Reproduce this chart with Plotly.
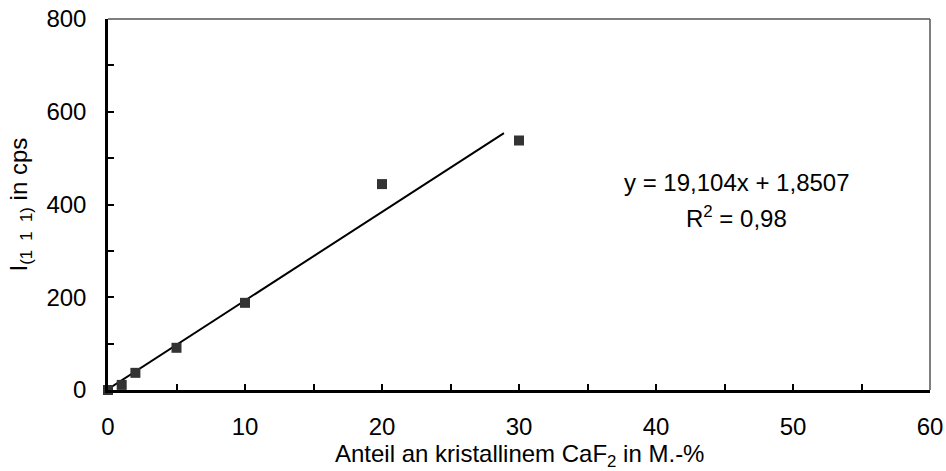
import plotly.graph_objects as go

# Data
x_vals = [0, 1, 2, 5, 10, 20, 30]
y_vals = [0, 11, 37, 91, 188, 444, 538]

# Linear trendline (Excel-style) as displayed
slope = 19.104
intercept = 1.8507
trend_x = [0, 28.9]
trend_y = [intercept + slope * v for v in trend_x]

eq_text = "y = 19,104x + 1,8507"
r2_text = "R<sup>2</sup> = 0,98"

x_title = "Anteil an kristallinem CaF<sub>2</sub> in M.-%"
y_title = "I<sub>(1&nbsp; 1&nbsp; 1)</sub> in cps"

FONT = "Liberation Sans, Arial, sans-serif"
FS = 24

fig = go.Figure()
fig.add_trace(go.Scatter(x=trend_x, y=trend_y, mode="lines",
                         line=dict(color="black", width=2),
                         showlegend=False, hoverinfo="skip"))
fig.add_trace(go.Scatter(x=x_vals, y=y_vals, mode="markers",
                         marker=dict(symbol="square", size=10, color="#333333"),
                         cliponaxis=False, showlegend=False))

fig.add_annotation(x=45.9, y=448, xref="x", yref="y", text=eq_text,
                   showarrow=False, font=dict(family=FONT, size=FS, color="black"))
fig.add_annotation(x=45.9, y=374, xref="x", yref="y", text=r2_text,
                   showarrow=False, font=dict(family=FONT, size=FS, color="black"))

# axis titles
fig.add_annotation(x=0.5, y=-0.177, xref="paper", yref="paper", text=x_title,
                   showarrow=False, xanchor="center", yanchor="middle",
                   font=dict(family=FONT, size=FS, color="black"))
fig.add_annotation(x=-0.107, y=0.5, xref="paper", yref="paper", text=y_title,
                   showarrow=False, textangle=-90, xanchor="center", yanchor="middle",
                   font=dict(family=FONT, size=FS, color="black"))

# thin gray top/right border
fig.add_shape(type="line", xref="paper", yref="paper", x0=0, x1=1, y0=1, y1=1,
              line=dict(color="#555555", width=1.5))
fig.add_shape(type="line", xref="paper", yref="paper", x0=1, x1=1, y0=0, y1=1,
              line=dict(color="#555555", width=1.5))

fig.update_layout(
    width=946, height=471,
    margin=dict(l=108, r=16, t=19, b=81),
    paper_bgcolor="white", plot_bgcolor="white",
    font=dict(family=FONT, size=FS, color="black"),
    xaxis=dict(range=[0, 60], dtick=10, tick0=0, showgrid=False, zeroline=False,
               automargin=False,
               showline=True, linecolor="black", linewidth=2.5,
               ticks="inside", ticklen=6, tickwidth=2, tickcolor="black",
               minor=dict(dtick=5, ticks="inside", ticklen=6, tickwidth=2, tickcolor="black"),
               ticklabelstandoff=13),
    yaxis=dict(range=[0, 800], dtick=200, tick0=0, showgrid=False, zeroline=False,
               automargin=False,
               showline=True, linecolor="black", linewidth=2.5,
               ticks="inside", ticklen=6, tickwidth=2, tickcolor="black",
               minor=dict(dtick=100, ticks="inside", ticklen=6, tickwidth=2, tickcolor="black"),
               ticklabelstandoff=14),
)

fig.write_html("out.html")
